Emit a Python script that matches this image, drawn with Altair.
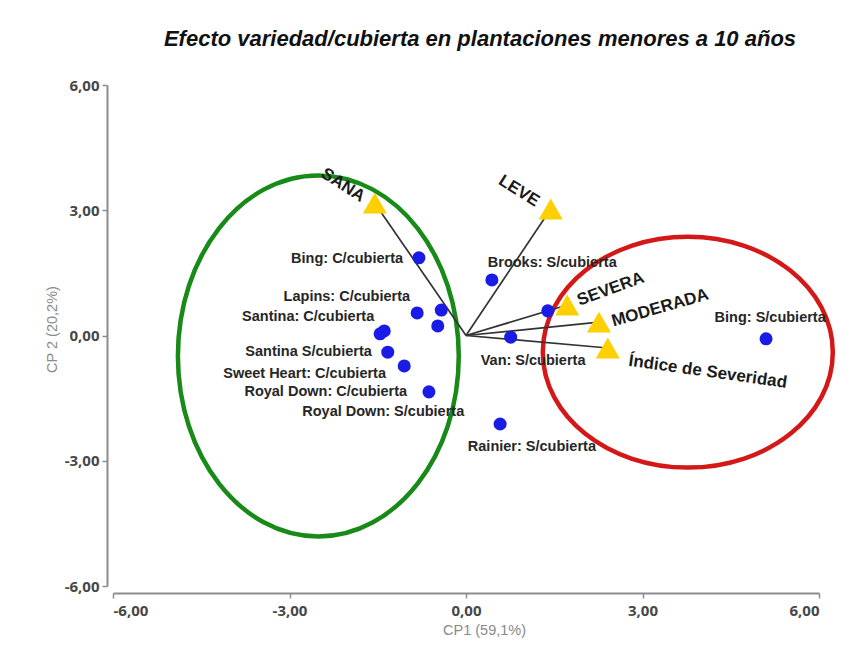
import altair as alt
import pandas as pd

# ---- data ----
# cultivar/cover observations (blue points)
point_x = [-0.80, 0.44, 1.39, -0.83, -0.42, -0.48, -1.46, -1.39, -1.33, -1.05, -0.63, 0.76, 0.58, 5.10]
point_y = [1.86, 1.33, 0.59, 0.54, 0.61, 0.23, 0.04, 0.11, -0.40, -0.73, -1.35, -0.04, -2.12, -0.08]

# observation labels
label_text = ["Bing: C/cubierta", "Brooks: S/cubierta", "Lapins: C/cubierta", "Santina: C/cubierta",
              "Santina S/cubierta", "Sweet Heart: C/cubierta", "Royal Down: C/cubierta",
              "Royal Down: S/cubierta", "Van: S/cubierta", "Rainier: S/cubierta", "Bing: S/cubierta"]
label_x = [-1.07, 0.37, -0.95, -1.56, -1.60, -1.36, -1.00, -0.03, 1.14, 1.12, 5.17]
label_y = [1.83, 1.74, 0.92, 0.44, -0.40, -0.92, -1.35, -1.83, -0.61, -2.67, 0.42]
label_align = ["right", "left", "right", "right", "right", "right", "right", "right",
               "center", "center", "center"]

# variables (yellow triangles) and their vectors from the origin
trait_names = ["SANA", "LEVE", "SEVERA", "MODERADA", "Índice de Severidad"]
trait_x = [-1.55, 1.44, 1.72, 2.26, 2.41]
trait_y = [3.17, 3.03, 0.73, 0.32, -0.30]
origin_x = [0, 0, 0, 0, 0]
origin_y = [0, 0, 0, 0, 0]
trait_label_x = [-2.09, 0.90, 2.46, 3.30, 4.11]
trait_label_y = [3.60, 3.46, 1.11, 0.66, -0.87]
trait_label_angle = [33, 32, 340, 344, 8]

# group ellipses (centres)
group_x = [-2.51, 3.77]
group_y = [-0.49, -0.40]

ticks = [-6, -3, 0, 3, 6]

# ---- tables ----
pts = pd.DataFrame({"x": point_x, "y": point_y})
labs = pd.DataFrame({"x": label_x, "y": label_y, "t": label_text, "a": label_align})
traits = pd.DataFrame({"x": trait_x, "y": trait_y, "x0": origin_x, "y0": origin_y,
                       "lx": trait_label_x, "ly": trait_label_y, "t": trait_names,
                       "ang": trait_label_angle})
green = pd.DataFrame({"x": group_x[:1], "y": group_y[:1]})
red = pd.DataFrame({"x": group_x[1:], "y": group_y[1:]})

fmt = "(datum.value < 0 ? '-' : '') + replace(format(abs(datum.value), '.2f'), '.', ',')"

xs = alt.Scale(domain=[-6, 6], nice=False, zero=False)
ys = alt.Scale(domain=[-6, 6], nice=False, zero=False)

X = alt.X("x:Q", scale=xs, axis=alt.Axis(values=ticks, labelExpr=fmt, title="CP1 (59,1%)",
                                         offset=7, titleX=371, titlePadding=5))
Y = alt.Y("y:Q", scale=ys, axis=alt.Axis(values=ticks, labelExpr=fmt, title="CP 2 (20,2%)",
                                         offset=6, titlePadding=5, titleY=244))

green_path = "M -0.778 0 A 0.778 1 0 1 1 0.778 0 A 0.778 1 0 1 1 -0.778 0 Z"
red_path = "M -1 0 A 1 0.796 0 1 1 1 0 A 1 0.796 0 1 1 -1 0 Z"

g_layer = alt.Chart(green).mark_point(shape=green_path, size=130321, filled=False,
                                      stroke="#178a17", strokeWidth=4.5, opacity=1).encode(x=X, y=Y)
r_layer = alt.Chart(red).mark_point(shape=red_path, size=84100, filled=False,
                                    stroke="#d41818", strokeWidth=4.5, opacity=1).encode(x="x:Q", y="y:Q")

vec = alt.Chart(traits).mark_rule(color="#333333", strokeWidth=1.7).encode(
    x="x0:Q", y="y0:Q", x2="x:Q", y2="y:Q")

dots = alt.Chart(pts).mark_circle(size=170, color="#1b1be6", opacity=1).encode(x="x:Q", y="y:Q")

tri = alt.Chart(traits).mark_point(shape="triangle-up", size=580, filled=True,
                                   color="#ffd000", opacity=1).encode(x="x:Q", y="y:Q")

lab_layers = []
for al in ["right", "left", "center"]:
    lab_layers.append(
        alt.Chart(labs).transform_filter(alt.datum.a == al).mark_text(
            align=al, baseline="middle", font="Liberation Sans", fontWeight="bold",
            fontSize=14.5, color="#262626").encode(x="x:Q", y="y:Q", text="t:N"))

trait_labels = alt.Chart(traits).mark_text(
    align="center", baseline="middle", font="Liberation Sans", fontWeight="bold",
    fontSize=17, color="#1a1a1a").encode(
    x="lx:Q", y="ly:Q", text="t:N", angle=alt.Angle("ang:Q", scale=None))

chart = alt.layer(g_layer, r_layer, vec, dots, tri, *lab_layers, trait_labels).properties(
    width=706, height=501,
    title=alt.TitleParams("Efecto variedad/cubierta en plantaciones menores a 10 años",
                          font="Liberation Sans", fontSize=22, fontWeight="bold", fontStyle="italic",
                          color="#111111", anchor="middle", dx=14, offset=27),
    autosize=alt.AutoSizeParams(type="none"),
    padding={"left": 105, "top": 77, "right": 39, "bottom": 57},
).configure_view(stroke=None).configure_axis(
    grid=False, domainColor="#8c8c8c", domainWidth=2, tickColor="#8c8c8c", tickWidth=1.5,
    tickSize=5, labelFont="Open Sans", labelFontWeight="bold", labelFontSize=15,
    labelColor="#474747", labelPadding=3, titleFont="Liberation Sans", titleFontSize=14.5,
    titleFontWeight="normal", titleColor="#8a8a8a"
).configure_axisX(labelPadding=5)

chart.save("out.html", embed_options={"renderer": "svg", "actions": False})
